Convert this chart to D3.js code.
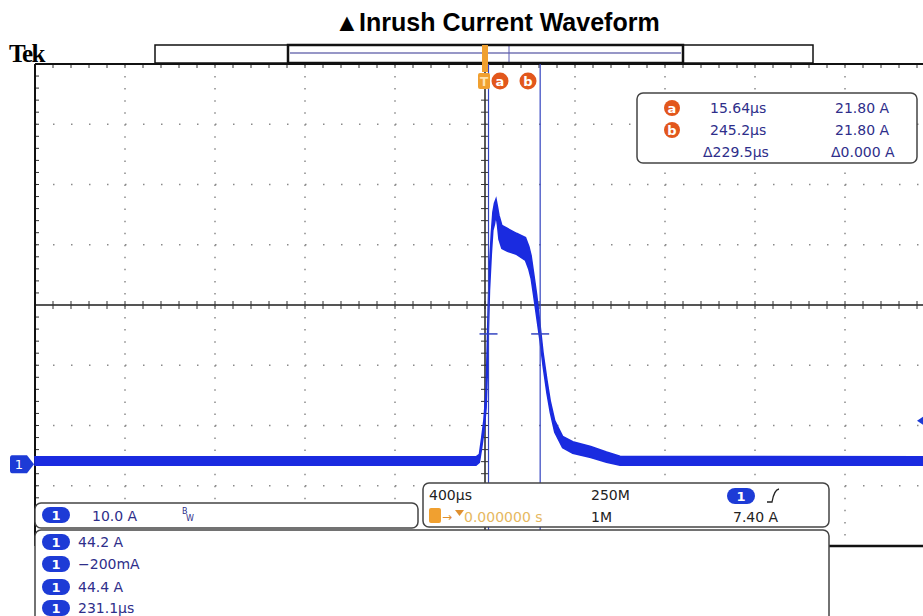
<html>
<head>
<meta charset="utf-8">
<title>Inrush Current Waveform</title>
<script src="https://d3js.org/d3.v7.min.js"></script>
<style type="text/css">
	body { margin: 0; background: #fff; }
	svg { display: block; }
	.ro { font-family: "DejaVu Sans", sans-serif; font-size: 14px; }
</style>
</head>
<body>
<div id="scope"></div>
<script type="text/javascript">
// waveform envelope read from the capture (time in µs, current in A)
var timeUs = [-2000, -40, -25, -15, -5, 5, 10, 14, 20, 28, 35, 42, 49, 55, 62, 75, 100, 140, 180, 195, 205, 215, 230, 245, 258, 275, 290, 310, 345, 390, 470, 540, 600, 2000];
var currentLo = [0.0, 0.0, 0.5, 2.8, 5.5, 9.5, 15, 21, 29, 35, 39, 40, 41.5, 40, 37.5, 36, 35.5, 35, 34, 32.5, 31, 28.5, 24.5, 20.5, 16.5, 12, 8.8, 5.5, 2.9, 2.0, 1.3, 0.5, 0.0, 0.0];
var currentHi = [1.4, 1.4, 1.8, 4.5, 7.5, 12.5, 20, 26, 33, 38.5, 42, 43.5, 44.2, 43, 41.5, 39.8, 39.3, 38.5, 37.8, 36.3, 34.8, 32.2, 28.2, 23.2, 18.7, 14.2, 10.7, 7.4, 4.8, 3.9, 3.1, 2.2, 1.5, 1.4];

// cursors and readouts
var cursorTimes = [15.64, 245.2];
var cursorLevel = 21.80;
var cursorNames = ["a", "b"];
var cursorRows = [["15.64µs", "21.80 A"], ["245.2µs", "21.80 A"], ["Δ229.5µs", "Δ0.000 A"]];
var measureLabels = ["44.2 A", "\u2212200mA", "44.4 A", "231.1µs"];
var triggerLevel = 7.40;

var W = 923, H = 616;
var X0 = 35, X1 = 935, Y0 = 64, Y1 = 546;

var x = d3.scaleLinear().domain([-2000, 2000]).range([X0, X1]);
var y = d3.scaleLinear().domain([-13.4, 66.6]).range([Y1, Y0]);

var svg = d3.select("#scope").append("svg")
	.attr("width", W).attr("height", H);

var blue = "#1a2be0", ink = "#2e2e8a", pill = "#1d3bd6", orange = "#f0a030";

// title
svg.append("text").attr("x", 497).attr("y", 31)
	.attr("text-anchor", "middle")
	.style("font-family", "'Liberation Sans', Arial, sans-serif")
	.style("font-weight", "bold").style("font-size", "25px")
	.text("▲Inrush Current Waveform");

svg.append("text").attr("x", 9).attr("y", 62)
	.style("font-family", "'Liberation Serif', serif")
	.style("font-weight", "bold").style("font-size", "25px")
	.style("letter-spacing", "-1.5px")
	.text("Tek");

// record bar
svg.append("rect").attr("x", 155).attr("y", 45).attr("width", 658).attr("height", 18)
	.attr("fill", "#fff").attr("stroke", "#111").attr("stroke-width", 1.5);
svg.append("line").attr("x1", 290).attr("x2", 681).attr("y1", 53).attr("y2", 53)
	.attr("stroke", "#7474b4").attr("stroke-width", 1.5);
svg.append("line").attr("x1", 509).attr("x2", 509).attr("y1", 45).attr("y2", 63)
	.attr("stroke", "#5a5ab0").attr("stroke-width", 1);
svg.append("rect").attr("x", 288).attr("y", 45).attr("width", 395).attr("height", 18)
	.attr("fill", "none").attr("stroke", "#111").attr("stroke-width", 2.5);

// dotted graticule
var majorX = d3.range(-2000, 2001, 400), minorX = d3.range(-2000, 2001, 80);
var majorY = d3.range(0, 9).map(function(k) { return Y0 + k * (Y1 - Y0) / 8; });
var minorY = d3.range(0, 41).map(function(k) { return Y0 + k * (Y1 - Y0) / 40; });

svg.selectAll(".gx").data(majorX.filter(function(d) { return d != 0 && d != -2000; }))
	.enter().append("line").attr("class", "gx")
	.attr("x1", function(d) { return x(d); }).attr("x2", function(d) { return x(d); })
	.attr("y1", Y0).attr("y2", Y1)
	.attr("stroke", "#8a8a8a").attr("stroke-width", 1.5).attr("stroke-dasharray", "1.5,10.55");
svg.selectAll(".gy").data(majorY.filter(function(d, i) { return i != 0 && i != 4 && i != 8; }))
	.enter().append("line").attr("class", "gy")
	.attr("x1", X0).attr("x2", W).attr("y1", function(d) { return d; }).attr("y2", function(d) { return d; })
	.attr("stroke", "#8a8a8a").attr("stroke-width", 1.5).attr("stroke-dasharray", "1.5,16.5");

// border ticks
svg.selectAll(".tt").data(minorX).enter().append("line")
	.attr("x1", function(d) { return x(d); }).attr("x2", function(d) { return x(d); })
	.attr("y1", Y0).attr("y2", Y0 + 4).attr("stroke", "#333");
svg.selectAll(".lt").data(minorY).enter().append("line")
	.attr("x1", X0).attr("x2", X0 + 4)
	.attr("y1", function(d) { return d; }).attr("y2", function(d) { return d; }).attr("stroke", "#333");

// centre crosshair
var yc = (Y0 + Y1) / 2;
svg.append("line").attr("x1", X0).attr("x2", W).attr("y1", yc).attr("y2", yc)
	.attr("stroke", "#555").attr("stroke-width", 2);
svg.append("line").attr("x1", x(0)).attr("x2", x(0)).attr("y1", Y0).attr("y2", Y1)
	.attr("stroke", "#222").attr("stroke-width", 1.5);
svg.selectAll(".cx").data(minorX).enter().append("line")
	.attr("x1", function(d) { return x(d); }).attr("x2", function(d) { return x(d); })
	.attr("y1", yc - 4).attr("y2", yc + 4).attr("stroke", "#333");
svg.selectAll(".cy").data(minorY).enter().append("line")
	.attr("x1", x(0) - 4).attr("x2", x(0) + 4)
	.attr("y1", function(d) { return d; }).attr("y2", function(d) { return d; }).attr("stroke", "#333");

// frame
svg.append("line").attr("x1", X0).attr("x2", W).attr("y1", Y0).attr("y2", Y0)
	.attr("stroke", "#111").attr("stroke-width", 2);
svg.append("line").attr("x1", X0).attr("x2", X0).attr("y1", Y0).attr("y2", Y1)
	.attr("stroke", "#111").attr("stroke-width", 2);
svg.append("line").attr("x1", X0).attr("x2", W).attr("y1", Y1).attr("y2", Y1)
	.attr("stroke", "#111").attr("stroke-width", 2.5);

// waveform
var wave = timeUs.map(function(t, i) { return { t: t, lo: currentLo[i], hi: currentHi[i] }; });
var area = d3.area()
	.x(function(d) { return x(d.t); })
	.y0(function(d) { return y(d.lo); })
	.y1(function(d) { return y(d.hi); });
svg.append("path").datum(wave).attr("d", area)
	.attr("fill", blue).attr("stroke", blue).attr("stroke-width", 1.5);

// cursors
svg.selectAll(".cur").data(cursorTimes).enter().append("line")
	.attr("x1", function(d) { return x(d); }).attr("x2", function(d) { return x(d); })
	.attr("y1", Y0).attr("y2", Y1).attr("stroke", "#3344c0").attr("stroke-width", 1.2);
svg.selectAll(".curx").data(cursorTimes).enter().append("line")
	.attr("x1", function(d) { return x(d) - 9; }).attr("x2", function(d) { return x(d) + 9; })
	.attr("y1", y(cursorLevel)).attr("y2", y(cursorLevel)).attr("stroke", "#3344c0").attr("stroke-width", 1.5);

// trigger markers (top)
svg.append("rect").attr("x", 482).attr("y", 45).attr("width", 6).attr("height", 27).attr("fill", orange);
svg.append("rect").attr("x", 478).attr("y", 73).attr("width", 12).attr("height", 16).attr("rx", 2).attr("fill", orange);
svg.append("text").attr("x", 484).attr("y", 86).attr("text-anchor", "middle")
	.style("font-family", "DejaVu Sans").style("font-size", "12px").style("font-weight", "bold")
	.attr("fill", "#fde3b0").text("T");
var capX = [500, 528];
svg.selectAll(".cap").data(cursorNames).enter().append("circle")
	.attr("cx", function(d, i) { return capX[i]; }).attr("cy", 81).attr("r", 8.5).attr("fill", "#e2571c");
svg.selectAll(".capt").data(cursorNames).enter().append("text")
	.attr("x", function(d, i) { return capX[i]; }).attr("y", 86).attr("text-anchor", "middle")
	.style("font-family", "DejaVu Sans").style("font-size", "13px").style("font-weight", "bold")
	.attr("fill", "#fff").text(function(d) { return d; });

// ground marker and trigger level
svg.append("path").attr("d", "M12,455 L27,455 L34,464 L27,473 L12,473 Q10,473 10,470 L10,458 Q10,455 12,455 Z")
	.attr("fill", pill).attr("transform", "translate(0," + (y(0) - 465) + ")");
svg.append("text").attr("x", 19).attr("y", 469).attr("text-anchor", "middle")
	.style("font-family", "DejaVu Sans").style("font-size", "13px").attr("fill", "#fff").text("1");
svg.append("path").attr("d", "M917," + y(triggerLevel) + " l6,-4 l0,8 Z").attr("fill", pill);

// cursor readout box
svg.append("rect").attr("x", 637).attr("y", 93).attr("width", 280).attr("height", 70).attr("rx", 6)
	.attr("fill", "#fff").attr("stroke", "#444").attr("stroke-width", 1.5);
var rowY = [108, 130, 152];
svg.selectAll(".rc").data(cursorNames).enter().append("circle")
	.attr("cx", 672).attr("cy", function(d, i) { return rowY[i]; }).attr("r", 8).attr("fill", "#e2571c");
svg.selectAll(".rct").data(cursorNames).enter().append("text")
	.attr("x", 672).attr("y", function(d, i) { return rowY[i] + 5; }).attr("text-anchor", "middle")
	.style("font-family", "DejaVu Sans").style("font-size", "13px").style("font-weight", "bold")
	.attr("fill", "#fff").text(function(d) { return d; });
var c1X = [710, 710, 703], c2X = [835, 835, 831];
svg.selectAll(".r1").data(cursorRows).enter().append("text").attr("class", "ro")
	.attr("x", function(d, i) { return c1X[i]; }).attr("y", function(d, i) { return rowY[i] + 5; })
	.attr("fill", ink).text(function(d) { return d[0]; });
svg.selectAll(".r2").data(cursorRows).enter().append("text").attr("class", "ro")
	.attr("x", function(d, i) { return c2X[i]; }).attr("y", function(d, i) { return rowY[i] + 5; })
	.attr("fill", ink).text(function(d) { return d[1]; });

function chanPill(px, py) {
	svg.append("rect").attr("x", px).attr("y", py).attr("width", 28).attr("height", 16).attr("rx", 8).attr("fill", pill);
	svg.append("text").attr("x", px + 14).attr("y", py + 13).attr("text-anchor", "middle")
		.style("font-family", "DejaVu Sans").style("font-size", "13px").style("font-weight", "bold")
		.attr("fill", "#fff").text("1");
}

// channel box
svg.append("rect").attr("x", 35).attr("y", 503).attr("width", 383).attr("height", 25).attr("rx", 6)
	.attr("fill", "#fff").attr("stroke", "#444").attr("stroke-width", 1.5);
chanPill(42, 507);
svg.append("text").attr("class", "ro").attr("x", 92).attr("y", 521).attr("fill", ink).text("10.0 A");
svg.append("text").attr("x", 182).attr("y", 514).style("font-family", "DejaVu Sans").style("font-size", "8px").attr("fill", ink).text("B");
svg.append("text").attr("x", 186).attr("y", 521).style("font-family", "DejaVu Sans").style("font-size", "8px").attr("fill", ink).text("W");

// timebase / trigger box
svg.append("rect").attr("x", 423).attr("y", 483).attr("width", 406).attr("height", 44).attr("rx", 6)
	.attr("fill", "#fff").attr("stroke", "#444").attr("stroke-width", 1.5);
svg.append("text").attr("class", "ro").attr("x", 429).attr("y", 500).attr("fill", "#222").text("400µs");
svg.append("text").attr("class", "ro").attr("x", 591).attr("y", 500).attr("fill", "#222").text("250M");
svg.append("text").attr("class", "ro").attr("x", 591).attr("y", 522).attr("fill", "#222").text("1M");
svg.append("text").attr("class", "ro").attr("x", 733).attr("y", 522).attr("fill", "#222").text(triggerLevel.toFixed(2) + " A");
chanPill(727, 488);
svg.append("path").attr("d", "M767,502 L772,502 Q774,490 779,489")
	.attr("fill", "none").attr("stroke", "#222").attr("stroke-width", 1.3);
svg.append("rect").attr("x", 429).attr("y", 508).attr("width", 12).attr("height", 15).attr("rx", 2).attr("fill", orange);
svg.append("text").attr("x", 442).attr("y", 521).style("font-family", "DejaVu Sans").style("font-size", "12px")
	.attr("fill", "#e09030").text("→");
svg.append("path").attr("d", "M455,510 L464,510 L459.5,516 Z").attr("fill", "#e09030");
svg.append("text").attr("class", "ro").attr("x", 464).attr("y", 522).attr("fill", "#e6b860").text("0.000000 s");

// measurement box
svg.append("rect").attr("x", 35).attr("y", 530).attr("width", 794).attr("height", 110).attr("rx", 6)
	.attr("fill", "#fff").attr("stroke", "#444").attr("stroke-width", 1.5);
var mY = [542, 564, 587, 608];
measureLabels.forEach(function(m, i) {
	chanPill(42, mY[i] - 8);
	svg.append("text").attr("class", "ro").attr("x", 78).attr("y", mY[i] + 5).attr("fill", ink).text(m);
});
</script>
</body>
</html>
